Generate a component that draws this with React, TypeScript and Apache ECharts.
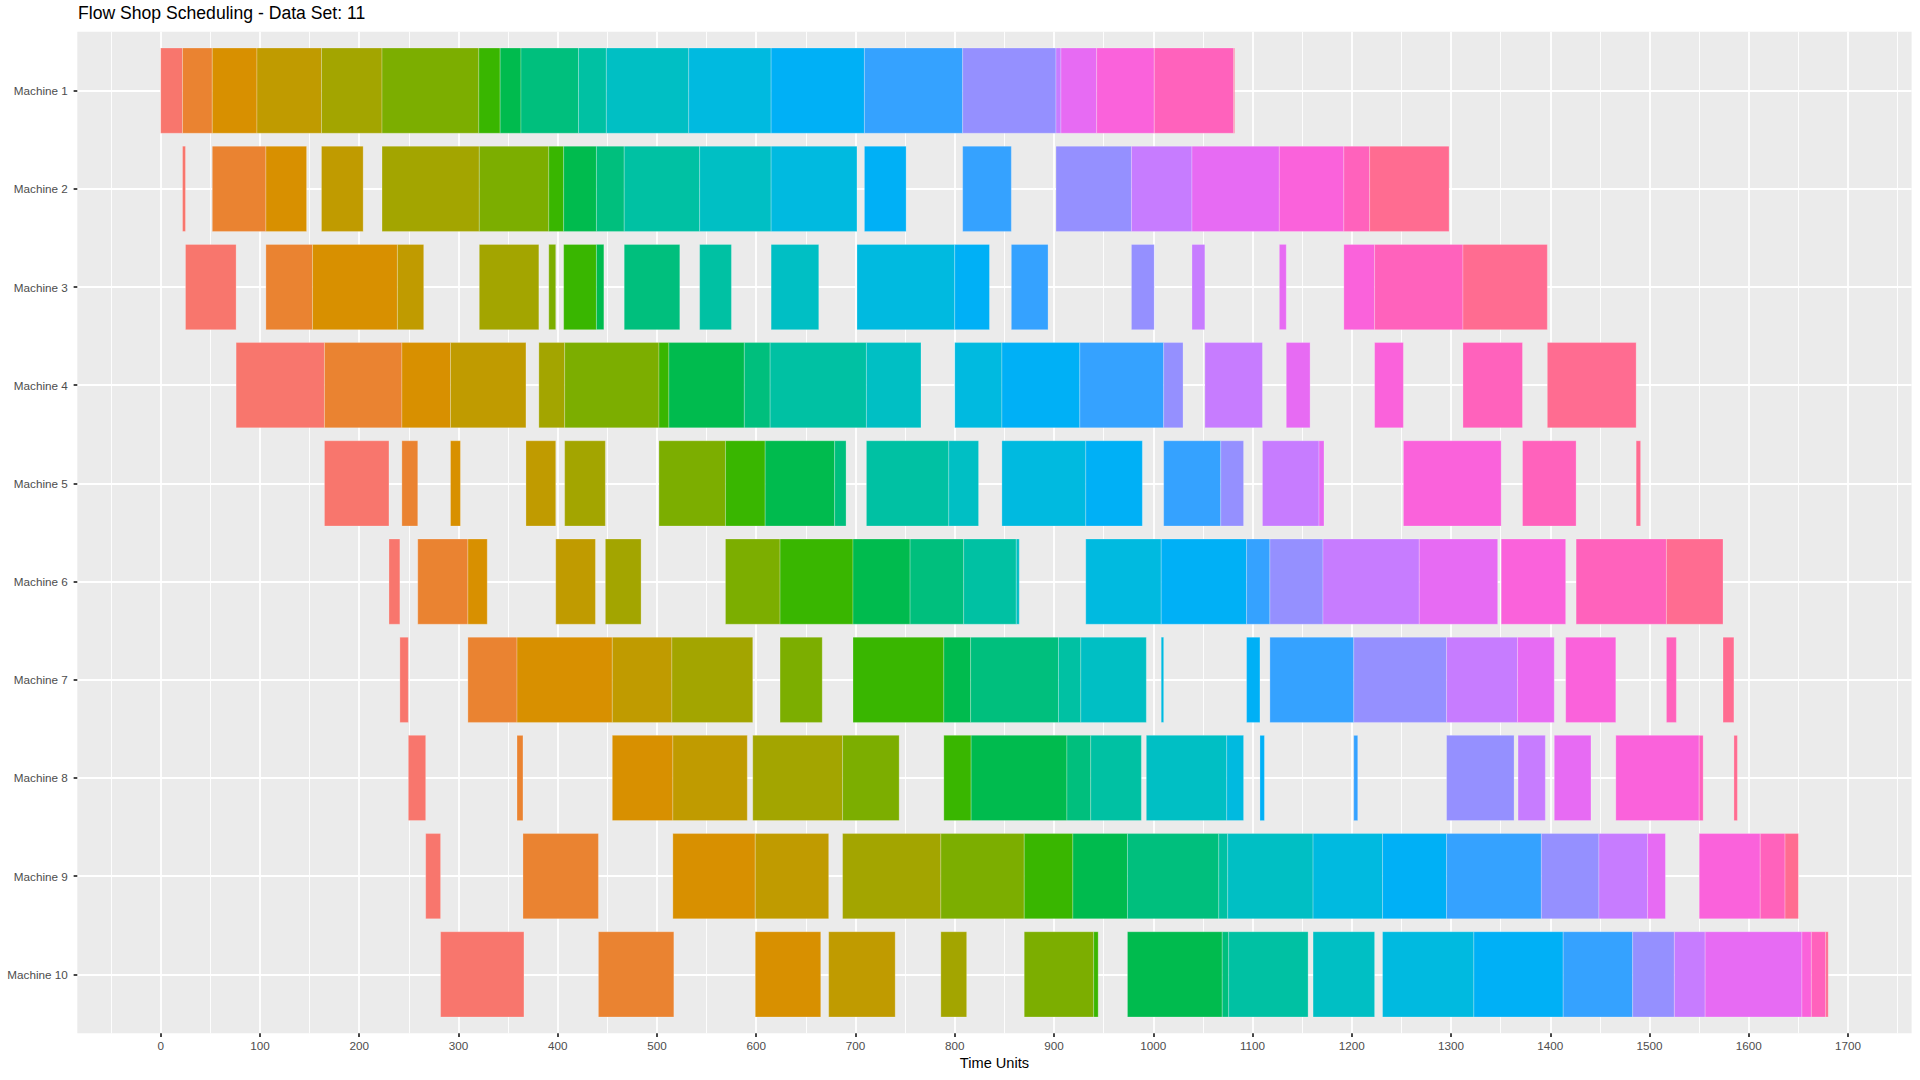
import React, { useEffect, useRef } from "react";
import * as echarts from "echarts";

const machines = [
  "Machine 1", "Machine 2", "Machine 3", "Machine 4", "Machine 5",
  "Machine 6", "Machine 7", "Machine 8", "Machine 9", "Machine 10",
];

const jobColors = [
  "#F8766D", "#EA8331", "#D89000", "#C09B00", "#A3A500", "#7CAE00", "#39B600",
  "#00BB4E", "#00BF7D", "#00C1A3", "#00BFC4", "#00BAE0", "#00B0F6", "#35A2FF",
  "#9590FF", "#C77CFF", "#E76BF3", "#FA62DB", "#FF62BC", "#FF6C91",
];

const xTicks = [0, 100, 200, 300, 400, 500, 600, 700, 800, 900, 1000, 1100, 1200, 1300, 1400, 1500, 1600, 1700];

// start time of each job (columns: job 1..20) on each machine (rows: machine 1..10)
const startTimes = [
  [0, 22, 52, 97, 162, 223, 320.5, 342, 363, 421, 449, 532, 615, 709, 808, 902, 907, 943, 1001, 1081],
  [22, 52, 106, 162, 223, 321, 391, 406, 439, 467, 543, 615, 709, 808, 902, 978, 1039, 1127, 1192, 1218],
  [25, 106, 153, 238.5, 321, 391, 406, 439, 467, 543, 615, 701.5, 800, 857, 978, 1039, 1127, 1192, 1223, 1312],
  [76, 165, 243, 292, 381, 407, 502, 512, 588, 614, 711, 800, 847.5, 926, 1010.5, 1052, 1134, 1223, 1312, 1397],
  [165, 243, 292, 368, 407, 502, 569, 609, 679, 711, 794, 847.5, 932, 1010.5, 1068, 1110, 1167, 1252, 1372, 1486.5],
  [230, 259, 309.5, 398, 448, 569, 624, 697.5, 755, 809, 862, 932, 1008, 1094, 1117.5, 1171, 1268, 1350.5, 1426, 1517],
  [241, 309.5, 359, 455, 515, 624, 697.5, 789, 816, 904.5, 927, 1008, 1094, 1117.5, 1202, 1295.5, 1367, 1415.5, 1517, 1574],
  [249.5, 359, 455, 516, 596.5, 687, 789, 816.5, 913, 937, 993, 1074, 1107.5, 1202, 1295.5, 1367.5, 1404, 1466, 1550, 1585],
  [267, 365, 516, 599, 687, 786, 870, 919, 974, 1066, 1075, 1161, 1231, 1295.5, 1391, 1449, 1498, 1550, 1611.5, 1636.5],
  [282, 441, 599, 673, 786, 870, 940, 974, 1069.5, 1076, 1161, 1231, 1323, 1413, 1483, 1525, 1556, 1653.5, 1663, 1677.5],
];

// end time of each job on each machine
const endTimes = [
  [22, 52, 97, 162, 223, 320.5, 342, 363, 421, 449, 532, 615, 709, 808, 902, 907, 943, 1001, 1081, 1082],
  [25, 106, 147, 204, 321, 391, 406, 439, 467, 543, 615, 701.5, 751, 857, 978, 1039, 1127, 1192, 1218, 1298],
  [76, 153, 238.5, 265, 381, 398, 439, 446.5, 523, 575, 663, 800, 835, 894, 1001, 1052, 1134, 1223, 1312, 1397],
  [165, 243, 292, 368, 407, 502, 512, 588, 614, 711, 766, 847.5, 926, 1010.5, 1030, 1110, 1158, 1252, 1372, 1486.5],
  [230, 259, 302, 398, 448, 569, 609, 679, 690.5, 794, 824, 932, 989, 1068, 1091, 1167, 1172, 1350.5, 1426, 1491],
  [241, 309.5, 329, 438, 484, 624, 697.5, 755, 809, 862, 865, 1008, 1094, 1117.5, 1171, 1268, 1347, 1415.5, 1517, 1574],
  [249.5, 359, 455, 515, 596.5, 666.5, 789, 816, 904.5, 927, 993, 1010.5, 1107.5, 1202, 1295.5, 1367, 1404, 1466, 1527, 1585],
  [267, 365, 516, 591, 687, 744, 816.5, 913, 937, 988, 1074, 1091, 1112, 1206, 1363.5, 1395, 1441, 1550, 1554, 1588.5],
  [282, 441, 599, 673, 786, 870, 919, 974, 1066, 1075, 1161, 1231, 1295.5, 1391, 1449, 1498, 1516, 1611.5, 1636.5, 1650],
  [366, 517, 665, 740, 812, 940, 944.5, 1069.5, 1076, 1156, 1223, 1323, 1413, 1483, 1525, 1556, 1653.5, 1663, 1677.5, 1680],
];

export default function App() {
  const ref = useRef<HTMLDivElement>(null);

  useEffect(() => {
    if (!ref.current) return;
    const chart = echarts.init(ref.current, null, { renderer: "svg" });
    const FONT = '"Liberation Sans", Arial, Helvetica, sans-serif';

    const panelLeft = 77.3;
    const panelTop = 31.7;
    const panelWidth = 1834.3;
    const panelHeight = 1001.6;
    const xMin = -84;
    const xMax = 1764;
    const k = panelWidth / (xMax - xMin);
    const yUnit = panelHeight / (machines.length - 1 + 1.2);

    const barData: number[][] = [];
    startTimes.forEach((row, m) =>
      row.forEach((s, j) => barData.push([s, endTimes[m][j], m, j]))
    );

    const option: any = {
      animation: false,
      textStyle: { fontFamily: FONT },
      grid: [
        {
          left: panelLeft, top: panelTop, width: panelWidth, height: panelHeight,
          show: true, backgroundColor: "#EBEBEB", borderWidth: 0,
        },
        {
          left: panelLeft + (-100 - xMin) * k, top: panelTop,
          width: 1900 * k, height: panelHeight, show: false,
        },
        {
          left: panelLeft, top: panelTop + 0.6 * yUnit,
          width: panelWidth, height: 9 * yUnit, show: false,
        },
      ],
      xAxis: [
        { gridIndex: 0, type: "value", show: false, min: 0, max: 1 },
        {
          gridIndex: 1, type: "value", min: -100, max: 1800, interval: 100,
          axisLine: { show: false, onZero: false },
          axisTick: {
            show: true, length: 3.67, customValues: xTicks,
            lineStyle: { color: "#333333", width: 1.8 },
          },
          axisLabel: {
            customValues: xTicks, color: "#4D4D4D", fontSize: 11.7, margin: 6,
            fontFamily: FONT, formatter: (v: number) => String(v),
          },
          splitLine: { show: true, lineStyle: { color: "#FFFFFF", width: 1.8 } },
          minorTick: { show: false, splitNumber: 2 },
          minorSplitLine: { show: true, lineStyle: { color: "#FFFFFF", width: 0.9 } },
        },
        { gridIndex: 2, type: "value", show: false, min: xMin, max: xMax },
      ],
      yAxis: [
        { gridIndex: 0, type: "value", show: false, min: 0, max: 1 },
        { gridIndex: 1, type: "value", show: false, min: 0, max: 1 },
        {
          gridIndex: 2, type: "category", data: machines, inverse: true, boundaryGap: false,
          axisLine: { show: false, onZero: false },
          axisTick: { show: true, length: 3.67, lineStyle: { color: "#333333", width: 1.8 } },
          axisLabel: { interval: 0, color: "#4D4D4D", fontSize: 11.7, margin: 9.5, fontFamily: FONT },
          splitLine: { show: true, interval: 0, lineStyle: { color: "#FFFFFF", width: 1.8 } },
        },
      ],
      series: [
        {
          type: "custom",
          xAxisIndex: 2,
          yAxisIndex: 2,
          encode: { x: [0, 1], y: 2 },
          data: barData,
          renderItem: (params: any, api: any) => {
            const s = api.coord([api.value(0), api.value(2)]);
            const e = api.coord([api.value(1), api.value(2)]);
            const h = api.size([0, 1])[1] * 0.868;
            const job = api.value(3);
            return {
              type: "rect",
              shape: { x: s[0], y: s[1] - h / 2, width: Math.max(e[0] - s[0], 0.5), height: h },
              style: { fill: jobColors[job], stroke: "rgba(255,255,255,0.3)", lineWidth: 0.8 },
            };
          },
        },
      ],
      graphic: [
        {
          type: "text", x: 78, y: 13.3, silent: true,
          style: {
            text: "Flow Shop Scheduling - Data Set: 11", fontSize: 17.6, fill: "#000000",
            fontFamily: FONT, align: "left", verticalAlign: "middle",
          },
        },
        {
          type: "text", x: panelLeft + panelWidth / 2, y: 1063, silent: true,
          style: {
            text: "Time Units", fontSize: 14.6, fill: "#000000",
            fontFamily: FONT, align: "center", verticalAlign: "middle",
          },
        },
      ],
    };

    chart.setOption(option);
    return () => chart.dispose();
  }, []);

  return (
    <div
      ref={ref}
      style={{ position: "fixed", left: 0, top: 0, width: "2000px", height: "1080px", background: "#FFFFFF" }}
    />
  );
}
